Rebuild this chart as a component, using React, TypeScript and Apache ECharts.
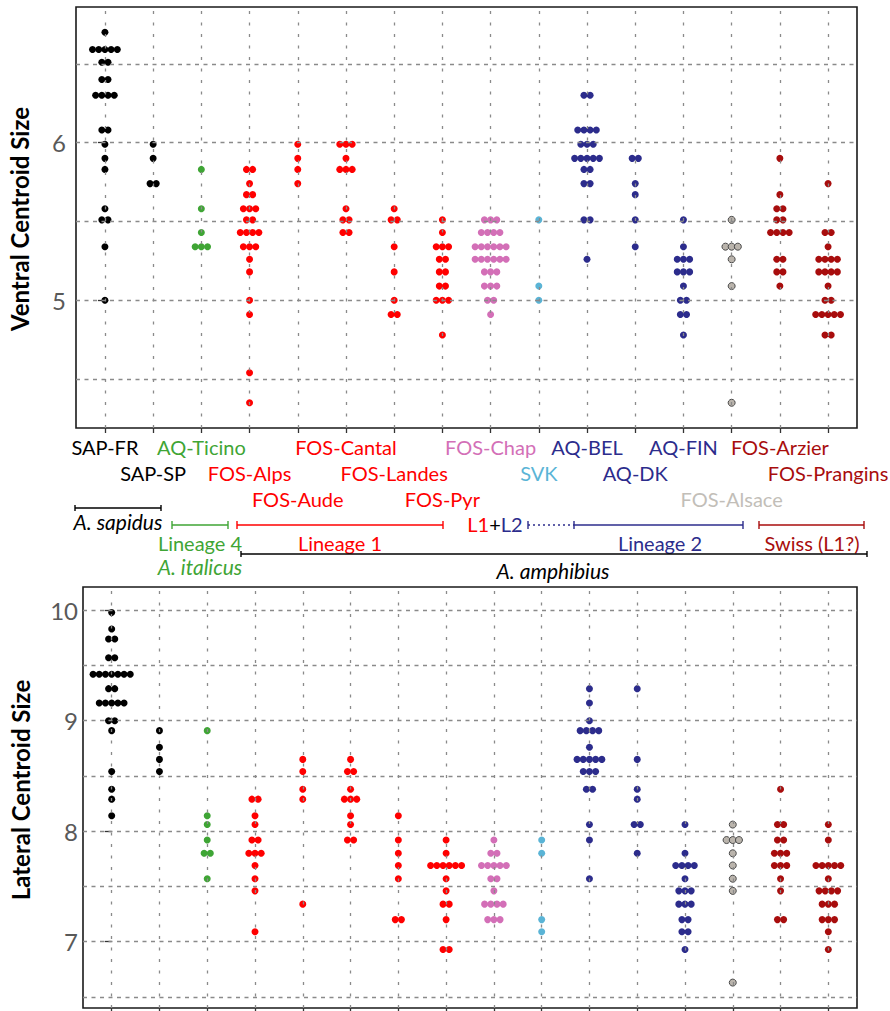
import React, { useEffect, useRef } from 'react';
import * as echarts from 'echarts';

// ---------- categories ----------
const categories = [
  'SAP-FR', 'SAP-SP', 'AQ-Ticino', 'FOS-Alps', 'FOS-Aude', 'FOS-Cantal', 'FOS-Landes', 'FOS-Pyr',
  'FOS-Chap', 'SVK', 'AQ-BEL', 'AQ-DK', 'AQ-FIN', 'FOS-Alsace', 'FOS-Arzier', 'FOS-Prangins',
];
const labelRow = [0, 1, 0, 1, 2, 0, 1, 2, 0, 1, 0, 1, 0, 2, 0, 1];
const BLACK = '#000000';
const GREEN = '#3fa535';
const RED = '#ff0000';
const PINK = '#d36fb7';
const LBLUE = '#5ab4d6';
const NAVY = '#2c2c8c';
const GRAY = '#bab4ac';
const DRED = '#a80d0d';
const dotColors = [BLACK, BLACK, GREEN, RED, RED, RED, RED, RED, PINK, LBLUE, NAVY, NAVY, NAVY, GRAY, DRED, DRED];
const labelColors = [BLACK, BLACK, GREEN, RED, RED, RED, RED, RED, PINK, LBLUE, NAVY, NAVY, NAVY, '#c2beb8', DRED, DRED];

// ---------- Ventral centroid size: [value, number of specimens] ----------
const ventralSAPFR = [[6.70, 1], [6.59, 5], [6.51, 2], [6.40, 2], [6.30, 4], [6.08, 2], [5.99, 1], [5.90, 1], [5.83, 1], [5.58, 1], [5.51, 2], [5.34, 1], [5.00, 1]];
const ventralSAPSP = [[5.99, 1], [5.90, 1], [5.74, 2]];
const ventralAQTicino = [[5.83, 1], [5.58, 1], [5.43, 1], [5.34, 3]];
const ventralFOSAlps = [[5.83, 2], [5.74, 1], [5.67, 2], [5.58, 3], [5.51, 2], [5.43, 4], [5.34, 3], [5.26, 1], [5.18, 1], [5.00, 1], [4.91, 1], [4.54, 1], [4.35, 1]];
const ventralFOSAude = [[5.99, 1], [5.90, 1], [5.83, 1], [5.74, 1]];
const ventralFOSCantal = [[5.99, 3], [5.90, 1], [5.83, 3], [5.58, 1], [5.51, 2], [5.43, 2]];
const ventralFOSLandes = [[5.58, 1], [5.51, 2], [5.34, 1], [5.18, 1], [5.00, 1], [4.91, 2]];
const ventralFOSPyr = [[5.51, 1], [5.43, 1], [5.34, 3], [5.26, 2], [5.18, 2], [5.09, 2], [5.00, 3], [4.78, 1]];
const ventralFOSChap = [[5.51, 3], [5.43, 4], [5.34, 6], [5.26, 6], [5.18, 3], [5.09, 3], [5.00, 2], [4.91, 1]];
const ventralSVK = [[5.51, 1], [5.09, 1], [5.00, 1]];
const ventralAQBEL = [[6.30, 2], [6.08, 4], [5.99, 3], [5.90, 5], [5.83, 2], [5.74, 2], [5.51, 2], [5.26, 1]];
const ventralAQDK = [[5.90, 2], [5.74, 1], [5.67, 1], [5.51, 1], [5.34, 1]];
const ventralAQFIN = [[5.51, 1], [5.34, 1], [5.26, 3], [5.18, 3], [5.09, 1], [5.00, 2], [4.91, 2], [4.78, 1]];
const ventralFOSAlsace = [[5.51, 1], [5.34, 3], [5.26, 1], [5.09, 1], [4.35, 1]];
const ventralFOSArzier = [[5.90, 1], [5.67, 1], [5.58, 2], [5.51, 2], [5.43, 4], [5.26, 2], [5.18, 2], [5.09, 1]];
const ventralFOSPrangins = [[5.74, 1], [5.43, 2], [5.34, 1], [5.26, 4], [5.18, 4], [5.09, 1], [5.00, 2], [4.91, 5], [4.78, 2]];

// ---------- Lateral centroid size ----------
const lateralSAPFR = [[9.98, 1], [9.83, 1], [9.74, 2], [9.57, 2], [9.42, 7], [9.29, 2], [9.16, 5], [9.00, 2], [8.91, 1], [8.54, 1], [8.38, 1], [8.29, 1], [8.14, 1]];
const lateralSAPSP = [[8.91, 1], [8.76, 1], [8.65, 1], [8.54, 1]];
const lateralAQTicino = [[8.91, 1], [8.14, 1], [8.06, 1], [7.92, 1], [7.80, 2], [7.57, 1]];
const lateralFOSAlps = [[8.29, 2], [8.14, 1], [8.06, 1], [7.92, 2], [7.80, 3], [7.69, 1], [7.57, 1], [7.46, 1], [7.09, 1]];
const lateralFOSAude = [[8.65, 1], [8.54, 1], [8.38, 1], [8.29, 1], [7.34, 1]];
const lateralFOSCantal = [[8.65, 1], [8.54, 2], [8.38, 1], [8.29, 3], [8.14, 1], [8.06, 1], [7.92, 2]];
const lateralFOSLandes = [[8.14, 1], [7.92, 1], [7.80, 1], [7.69, 1], [7.57, 1], [7.20, 2]];
const lateralFOSPyr = [[7.92, 1], [7.80, 1], [7.69, 6], [7.57, 1], [7.46, 1], [7.34, 2], [7.20, 1], [6.93, 2]];
const lateralFOSChap = [[7.92, 1], [7.80, 2], [7.69, 5], [7.57, 2], [7.46, 1], [7.34, 4], [7.20, 3]];
const lateralSVK = [[7.92, 1], [7.80, 1], [7.20, 1], [7.09, 1]];
const lateralAQBEL = [[9.29, 1], [9.16, 1], [9.00, 1], [8.91, 4], [8.76, 1], [8.65, 5], [8.54, 3], [8.38, 2], [8.06, 1], [7.92, 1], [7.57, 1]];
const lateralAQDK = [[9.29, 1], [8.65, 1], [8.38, 1], [8.29, 1], [8.06, 2], [7.80, 1]];
const lateralAQFIN = [[8.06, 1], [7.80, 1], [7.69, 4], [7.57, 1], [7.46, 3], [7.34, 3], [7.20, 2], [7.09, 2], [6.93, 1]];
const lateralFOSAlsace = [[8.06, 1], [7.92, 3], [7.80, 1], [7.69, 1], [7.57, 1], [7.46, 1], [6.63, 1]];
const lateralFOSArzier = [[8.38, 1], [8.06, 2], [7.92, 2], [7.80, 3], [7.69, 3], [7.57, 1], [7.46, 1], [7.20, 2]];
const lateralFOSPrangins = [[8.06, 1], [7.92, 1], [7.69, 5], [7.57, 1], [7.46, 4], [7.34, 3], [7.20, 3], [7.09, 1], [6.93, 1]];

const ventralData = [ventralSAPFR, ventralSAPSP, ventralAQTicino, ventralFOSAlps, ventralFOSAude, ventralFOSCantal, ventralFOSLandes, ventralFOSPyr, ventralFOSChap, ventralSVK, ventralAQBEL, ventralAQDK, ventralAQFIN, ventralFOSAlsace, ventralFOSArzier, ventralFOSPrangins];
const lateralData = [lateralSAPFR, lateralSAPSP, lateralAQTicino, lateralFOSAlps, lateralFOSAude, lateralFOSCantal, lateralFOSLandes, lateralFOSPyr, lateralFOSChap, lateralSVK, lateralAQBEL, lateralAQDK, lateralAQFIN, lateralFOSAlsace, lateralFOSArzier, lateralFOSPrangins];

// ---------- axes ----------
const ventralTickValues = [5, 6];
const ventralGridValues = [4.5, 5, 5.5, 6, 6.5];
const lateralTickValues = [7, 8, 9, 10];
const lateralGridValues = [6.5, 7, 7.5, 8, 8.5, 9, 9.5, 10];
const catIdx = categories.map((_, i) => i);

const FONT = 'Lato, "Open Sans", sans-serif';
const DOT_STEP = 6.2;

function swarm(levels: number[][], cat: number) {
  const out: any[] = [];
  levels.forEach(([v, n]) => {
    for (let j = 0; j < n; j++) {
      out.push({ value: [cat, v], symbolOffset: [(j - (n - 1) / 2) * DOT_STEP, 0] });
    }
  });
  return out;
}

function gridSeries(xAxisIndex: number, yAxisIndex: number, hVals: number[]) {
  return {
    type: 'scatter',
    xAxisIndex,
    yAxisIndex,
    data: [],
    silent: true,
    z: 1,
    markLine: {
      silent: true,
      animation: false,
      symbol: ['none', 'none'],
      label: { show: false },
      emphasis: { disabled: true },
      lineStyle: { color: '#8a8a8a', width: 1.3, type: [4, 4.5] },
      data: [
        ...catIdx.map((i) => ({ xAxis: i, lineStyle: { color: '#8a8a8a', width: 1.3, type: [3, 8.5] } })),
        ...hVals.map((v) => ({ yAxis: v })),
      ],
    },
  };
}

function dotSeries(data: number[][][], xAxisIndex: number, yAxisIndex: number) {
  return data.map((levels, i) => ({
    type: 'scatter',
    name: categories[i],
    xAxisIndex,
    yAxisIndex,
    symbol: 'circle',
    symbolSize: 7,
    silent: true,
    z: 3,
    itemStyle: {
      color: dotColors[i],
      opacity: 1,
      borderColor: i === 13 ? '#4a4a4a' : dotColors[i],
      borderWidth: i === 13 ? 1 : 0,
    },
    data: swarm(levels, i),
  }));
}

function labelAxis(row: number, margin: number, withTicks: boolean) {
  return {
    type: 'value',
    gridIndex: 0,
    position: 'bottom',
    min: -0.6,
    max: 15.6,
    axisLine: { show: false },
    splitLine: { show: false },
    axisTick: withTicks
      ? { show: true, inside: false, length: 5, customValues: catIdx, lineStyle: { color: '#333', width: 1.3 } }
      : { show: false },
    axisLabel: {
      show: true,
      customValues: catIdx.filter((i) => labelRow[i] === row),
      formatter: (v: number) => categories[Math.round(v)],
      color: (v: any) => labelColors[Math.round(Number(v))],
      fontSize: 20,
      fontFamily: FONT,
      margin,
      hideOverlap: false,
    },
  };
}

function txt(text: string, x: number, y: number, color: string, italic = false, size = 20) {
  return {
    type: 'text',
    x,
    y,
    silent: true,
    style: {
      text,
      fill: color,
      font: `${italic ? 'italic ' : ''}${size}px ${FONT}`,
      textAlign: 'center',
      textVerticalAlign: 'middle',
      align: 'center',
      verticalAlign: 'middle',
    },
  };
}

function bracket(x1: number, x2: number, y: number, color: string, h = 4, dash?: number[], leftTick = true, rightTick = true) {
  const els: any[] = [
    { type: 'line', silent: true, shape: { x1, y1: y, x2, y2: y }, style: { stroke: color, lineWidth: 1.4, lineDash: dash } },
  ];
  if (leftTick) els.push({ type: 'line', silent: true, shape: { x1, y1: y - h, x2: x1, y2: y + h }, style: { stroke: color, lineWidth: 1.4 } });
  if (rightTick) els.push({ type: 'line', silent: true, shape: { x1: x2, y1: y - h, x2, y2: y + h }, style: { stroke: color, lineWidth: 1.4 } });
  return els;
}

export default function App() {
  const ref = useRef<HTMLDivElement>(null);

  useEffect(() => {
    if (!ref.current) return;
    const chart = echarts.init(ref.current, null, { renderer: 'svg' });

    const yAxisCommon = {
      type: 'value',
      axisLine: { show: false },
      splitLine: { show: false },
    };

    chart.setOption({
      animation: false,
      backgroundColor: '#ffffff',
      grid: [
        { left: 76, top: 7, width: 781, height: 421, show: true, borderColor: '#1a1a1a', borderWidth: 1.6, backgroundColor: 'transparent', outerBoundsMode: 'none' },
        { left: 83, top: 587, width: 774, height: 421, show: true, borderColor: '#1a1a1a', borderWidth: 1.6, backgroundColor: 'transparent', outerBoundsMode: 'none' },
      ],
      xAxis: [
        labelAxis(0, 9, true),
        labelAxis(1, 35, false),
        labelAxis(2, 61, false),
        {
          type: 'value',
          gridIndex: 1,
          position: 'bottom',
          min: -0.6,
          max: 15.6,
          axisLine: { show: false },
          splitLine: { show: false },
          axisTick: { show: true, length: 5, customValues: catIdx, lineStyle: { color: '#333', width: 1.3 } },
          axisLabel: { show: false },
        },
      ],
      yAxis: [
        {
          ...yAxisCommon,
          gridIndex: 0,
          min: 4.19,
          max: 6.86,
          axisTick: { show: true, length: 7, customValues: ventralTickValues, lineStyle: { color: '#333', width: 1.3 } },
          axisLabel: { customValues: ventralTickValues, fontSize: 24, fontFamily: FONT, color: '#595959', margin: 10 },
        },
        {
          ...yAxisCommon,
          gridIndex: 1,
          min: 6.4,
          max: 10.21,
          axisTick: { show: true, length: 7, customValues: lateralTickValues, lineStyle: { color: '#333', width: 1.3 } },
          axisLabel: { customValues: lateralTickValues, fontSize: 24, fontFamily: FONT, color: '#595959', margin: 5 },
        },
      ],
      series: [
        gridSeries(0, 0, ventralGridValues),
        gridSeries(3, 1, lateralGridValues),
        ...dotSeries(ventralData, 0, 0),
        ...dotSeries(lateralData, 3, 1),
      ],
      graphic: [
        {
          type: 'text', x: 19, y: 219, rotation: Math.PI / 2, silent: true,
          style: { text: 'Ventral Centroid Size', fill: '#000', font: `bold 24px ${FONT}`, textAlign: 'center', textVerticalAlign: 'middle', align: 'center', verticalAlign: 'middle' },
        },
        {
          type: 'text', x: 20, y: 790, rotation: Math.PI / 2, silent: true,
          style: { text: 'Lateral Centroid Size', fill: '#000', font: `bold 24px ${FONT}`, textAlign: 'center', textVerticalAlign: 'middle', align: 'center', verticalAlign: 'middle' },
        },
        ...bracket(75, 161, 508, BLACK, 3),
        txt('A. sapidus', 118, 521, BLACK, true, 21),
        ...bracket(172, 228, 525, GREEN, 4),
        txt('Lineage 4', 200, 543, GREEN),
        txt('A. italicus', 200, 566, GREEN, true, 21),
        ...bracket(237, 443, 525, RED, 4),
        txt('Lineage 1', 340, 543, RED),
        {
          type: 'text', x: 495, y: 524, silent: true,
          style: {
            text: '{r|L1}{k|+}{n|L2}',
            font: `20px ${FONT}`,
            textAlign: 'center', textVerticalAlign: 'middle', align: 'center', verticalAlign: 'middle',
            rich: {
              r: { fill: RED, color: RED, font: `20px ${FONT}` },
              k: { fill: BLACK, color: BLACK, font: `20px ${FONT}` },
              n: { fill: NAVY, color: NAVY, font: `20px ${FONT}` },
            },
          },
        },
        ...bracket(528, 574, 525, NAVY, 4, [2, 3], true, false),
        ...bracket(574, 743, 525, NAVY, 4),
        txt('Lineage 2', 660, 543, NAVY),
        ...bracket(759, 864, 525, DRED, 4),
        txt('Swiss (L1?)', 812, 543, DRED),
        ...bracket(241, 867, 554, BLACK, 3),
        txt('A. amphibius', 553, 570, BLACK, true, 21),
      ],
    });

    return () => chart.dispose();
  }, []);

  return (
    <div
      ref={ref}
      style={{ position: 'fixed', left: 0, top: 0, width: 890, height: 1011, background: '#fff' }}
    />
  );
}
